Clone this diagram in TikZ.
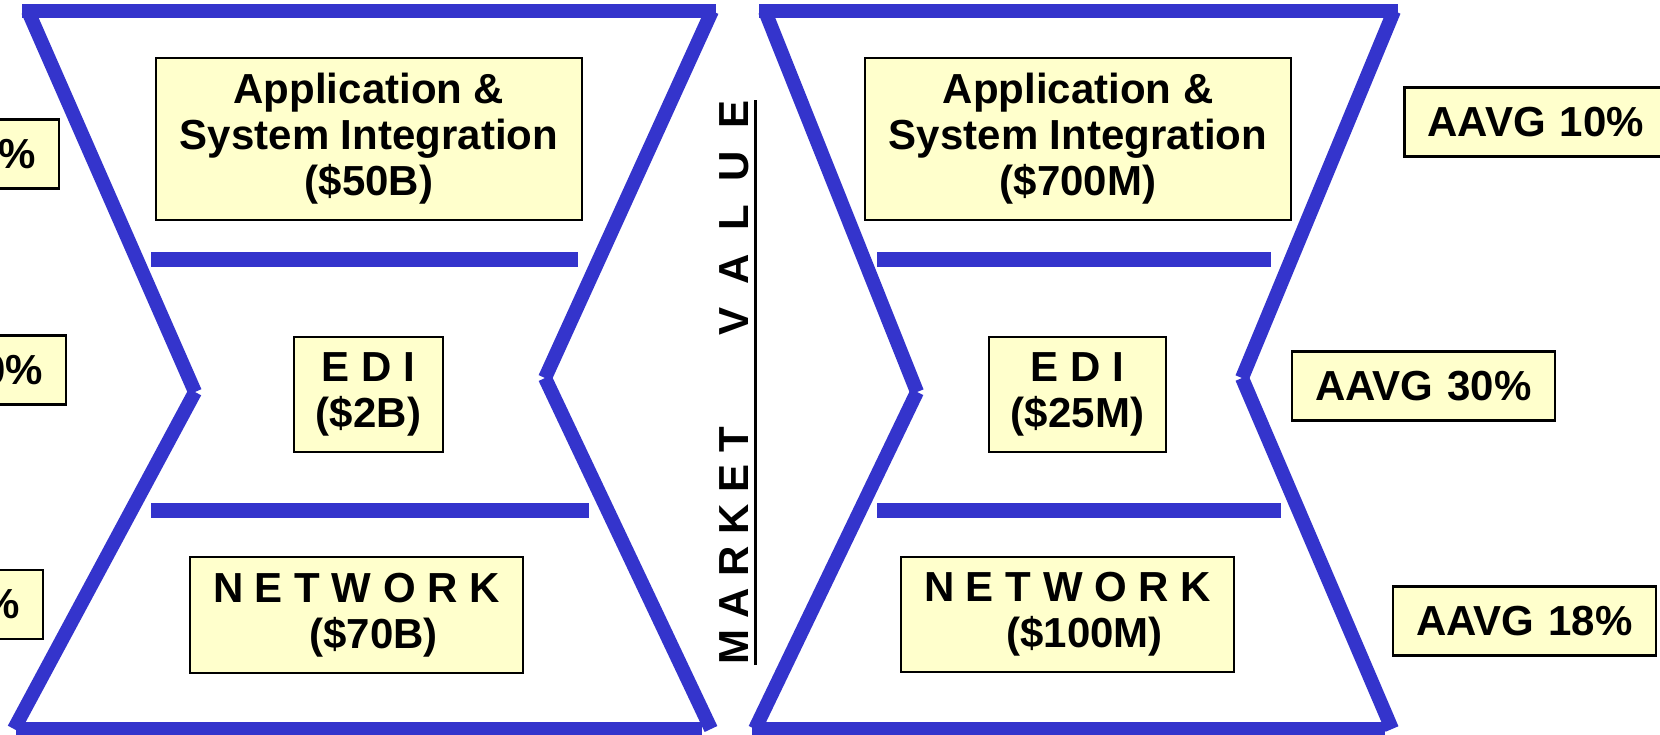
\documentclass[tikz,border=0pt]{standalone}
\usepackage{fontspec}
\setmainfont{Liberation Sans}
\usepackage{tikz}
\definecolor{frame}{HTML}{3434CC}
\definecolor{paper}{HTML}{FFFFCC}
\tikzset{
  bline/.style={draw=frame, line width=14pt, line cap=butt},
  dline/.style={draw=frame, line width=15pt, line cap=butt},
  tbox/.style={draw=black, fill=paper, line width=2.5pt, align=center, inner sep=0pt,
    font=\bfseries\fontsize{42}{46}\selectfont},
  aavg/.style={tbox, text width=218pt, inner xsep=22.5pt, minimum height=69pt},
  mlabel/.style={font=\bfseries\fontsize{42}{46}\selectfont, inner sep=0pt},
  uline/.style={draw=black, line width=3pt}
}

\begin{document}
\begin{tikzpicture}[x=1pt, y=-1pt]
  \useasboundingbox (0,0) rectangle (1660,735);
  \clip (0,0) rectangle (1660,735);

  % left hourglass
  \coordinate (A1) at (28,11);
  \coordinate (A2) at (195,392);
  \coordinate (A3) at (14,729);
  \coordinate (A4) at (712,11);
  \coordinate (A5) at (545,378);
  \coordinate (A6) at (711,729);

  \draw[bline] (22,11) -- (716,11);
  \draw[bline] (16,729) -- (702,729);
  \draw[bline] (A1) -- (A2);
  \draw[bline] (A2) -- (A3);
  \draw[bline] (A4) -- (A5);
  \draw[bline] (A5) -- (A6);
  \draw[dline] (151,260) -- (578,260);
  \draw[dline] (151,510) -- (589,510);

  % right hourglass
  \coordinate (B1) at (765,11);
  \coordinate (B2) at (917,392);
  \coordinate (B3) at (755,729);
  \coordinate (B4) at (1394,11);
  \coordinate (B5) at (1242,378);
  \coordinate (B6) at (1392,729);

  \draw[bline] (759,11) -- (1398,11);
  \draw[bline] (752,729) -- (1385,729);
  \draw[bline] (B1) -- (B2);
  \draw[bline] (B2) -- (B3);
  \draw[bline] (B4) -- (B5);
  \draw[bline] (B5) -- (B6);
  \draw[dline] (877,260) -- (1271,260);
  \draw[dline] (877,510) -- (1281,510);

  % segment boxes
  \node (app1) [tbox, minimum width=426pt, minimum height=162pt] at (369,139)
    {Application \&\\System Integration\\(\$50B)};
  \node (edi1) [tbox, minimum width=149pt, minimum height=115pt] at (368.5,394.5)
    {E D I\\(\$2B)};
  \node (net1) [tbox, minimum width=333pt, minimum height=116pt] at (356.5,615)
    {N E T W O R K\\\hspace*{34pt}(\$70B)};

  \node (app2) [tbox, minimum width=426pt, minimum height=162pt] at (1078,139)
    {Application \&\\System Integration\\(\$700M)};
  \node (edi2) [tbox, minimum width=177pt, minimum height=115pt] at (1077.5,394.5)
    {E D I\\(\$25M)};
  \node (net2) [tbox, minimum width=333pt, minimum height=115pt] at (1067.5,614.5)
    {N E T W O R K\\\hspace*{34pt}(\$100M)};

  % growth boxes
  \node (gl1) [aavg, align=right, anchor=east] at (60,154) {\%};
  \node (gl2) [aavg, align=right, anchor=east] at (67,370) {0\%};
  \node (gl3) [aavg, align=right, anchor=east] at (44,604.5) {\%};

  \node (gr1) [aavg, anchor=west] at (1403,122) {AAVG 10\%};
  \node (gr2) [aavg] at (1423.5,386) {AAVG 30\%};
  \node (gr3) [aavg] at (1524.5,621) {AAVG 18\%};

  % axis label
  \node (mv) [mlabel, rotate=90, anchor=base west] at (748,665)
    {M A R K E T\hspace{91pt}V\ \ A\ \ L\ \ U\ \ E};
  \draw[uline] ([xshift=7pt]mv.base west) -- ([xshift=7pt]mv.base east);
\end{tikzpicture}
\end{document}
